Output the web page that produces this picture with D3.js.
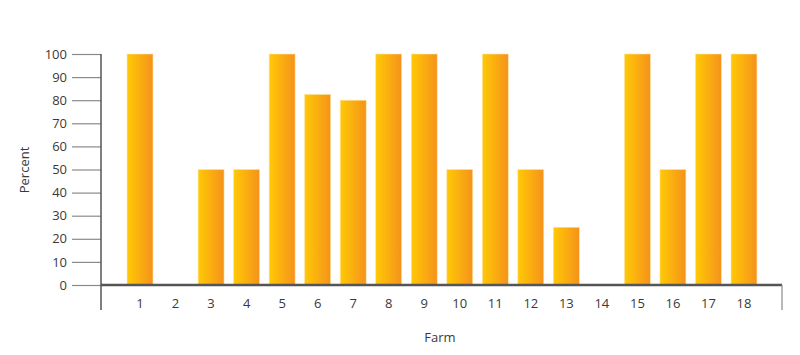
<!DOCTYPE html>
<html>
<head>
<meta charset="utf-8">
<script src="https://cdn.jsdelivr.net/npm/d3@7"></script>
<style>
  body { margin: 0; background: #fff; }
  svg text { font-family: "Open Sans", "Noto Sans", sans-serif; fill: #3a3a3a; }
</style>
</head>
<body>
<div id="chart"></div>
<script>
// farms and percent values
let farms = ['1','2','3','4','5','6','7','8','9','10','11','12','13','14','15','16','17','18']
let percent = [100, 0, 50, 50, 100, 82.5, 80, 100, 100, 50, 100, 50, 25, 0, 100, 50, 100, 100]
let yTicks = [0, 10, 20, 30, 40, 50, 60, 70, 80, 90, 100]

let width = 800, height = 355

let svg = d3.select('#chart').append('svg')
    .attr('width', width)
    .attr('height', height)

// gradient for the bars (yellow -> orange)
let defs = svg.append('defs')
let grad = defs.append('linearGradient').attr('id', 'barGrad')
    .attr('x1', '0%').attr('x2', '100%').attr('y1', '0%').attr('y2', '0%')
grad.append('stop').attr('offset', '0%').attr('stop-color', '#ffc905')
grad.append('stop').attr('offset', '100%').attr('stop-color', '#f5921b')

let x = d3.scaleBand().domain(farms).range([122.25, 761.75]).paddingInner(0.27).paddingOuter(0.135)
let y = d3.scaleLinear().domain([0, 100]).range([285, 54])

// y tick lines on the left of the axis
let yAxis = d3.axisLeft(y).tickValues(yTicks).tickSize(29).tickPadding(5)
let gy = svg.append('g').attr('transform', 'translate(101,0)').call(yAxis)
gy.select('.domain').remove()
gy.selectAll('.tick line').attr('stroke', '#8a8a8a').attr('stroke-width', 1.2)
gy.selectAll('.tick text').style('font-size', '13px').attr('fill', '#3a3a3a')

// bars
svg.selectAll('rect.bar')
    .data(percent)
    .enter()
    .append('rect')
    .attr('class', 'bar')
    .attr('x', (d, i) => x(farms[i]))
    .attr('width', x.bandwidth())
    .attr('y', d => y(d))
    .attr('height', d => y(0) - y(d))
    .attr('fill', 'url(#barGrad)')
    .attr('stroke', '#fde3a0')
    .attr('stroke-width', 0.6)

// left vertical axis line
svg.append('line')
    .attr('x1', 101).attr('x2', 101)
    .attr('y1', y(100)).attr('y2', 310)
    .attr('stroke', '#555').attr('stroke-width', 1.5)

// bottom axis line + right end tick
svg.append('line')
    .attr('x1', 101).attr('x2', 782)
    .attr('y1', y(0)).attr('y2', y(0))
    .attr('stroke', '#555').attr('stroke-width', 2.5)
svg.append('line')
    .attr('x1', 782).attr('x2', 782)
    .attr('y1', y(0)).attr('y2', 310)
    .attr('stroke', '#8a8a8a').attr('stroke-width', 1.2)

// farm labels
svg.selectAll('text.xlab')
    .data(farms)
    .enter()
    .append('text')
    .attr('class', 'xlab')
    .attr('x', d => x(d) + x.bandwidth() / 2)
    .attr('y', 308)
    .attr('text-anchor', 'middle')
    .style('font-size', '13px')
    .text(d => d)

// axis titles
svg.append('text')
    .attr('transform', 'translate(29,170) rotate(-90)')
    .attr('text-anchor', 'middle')
    .style('font-size', '13px')
    .text('Percent')

svg.append('text')
    .attr('x', 440)
    .attr('y', 342)
    .attr('text-anchor', 'middle')
    .style('font-size', '13px')
    .text('Farm')
</script>
</body>
</html>
